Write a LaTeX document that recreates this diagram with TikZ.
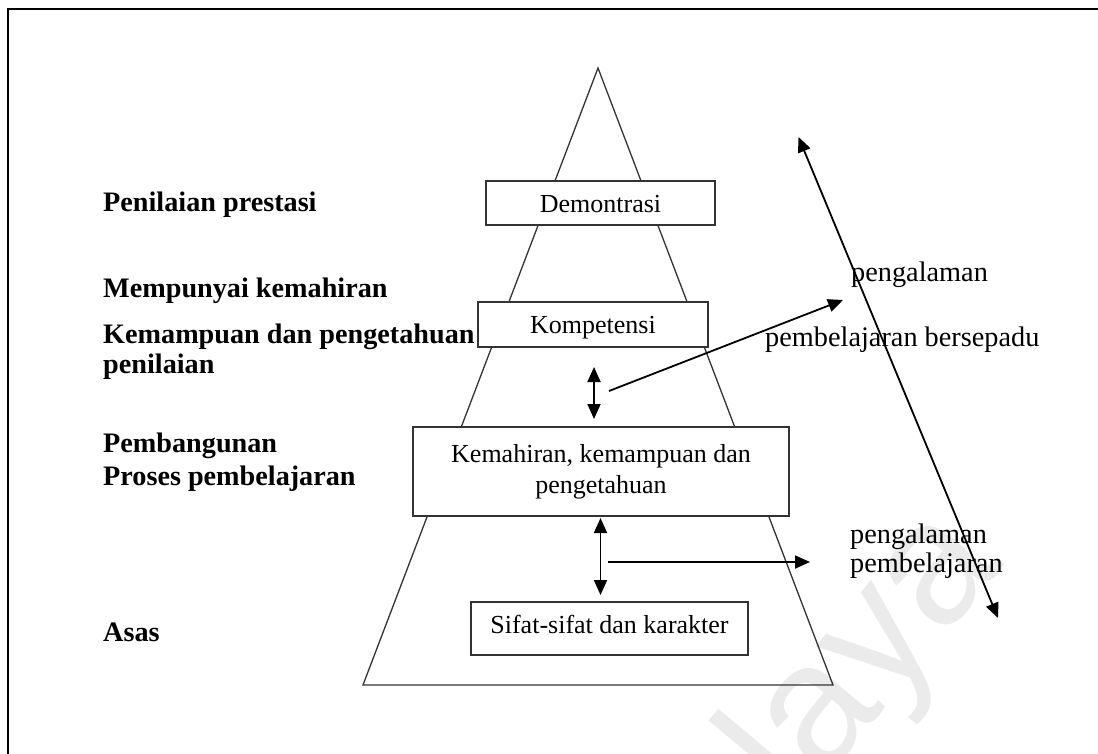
\documentclass[tikz,border=0pt]{standalone}
\usepackage{fontspec}
\setmainfont{Liberation Serif}
\newfontfamily\wmfont{Liberation Sans}
\usetikzlibrary{arrows.meta}
\begin{document}
\begin{tikzpicture}[x=1pt,y=-1pt,
  pyr/.style={draw=black!80,line width=1.3pt},
  box/.style={draw=black!80,line width=1.8pt,fill=white,inner sep=0pt},
  txt/.style={inner sep=0pt,font=\fontsize{26}{30}\selectfont},
  side/.style={inner sep=0pt,anchor=base west,font=\fontsize{28.3}{30}\selectfont},
  lbl/.style={inner sep=0pt,anchor=base west,font=\fontsize{28.2}{30}\selectfont\bfseries},
  tip/.style={Triangle[length=15pt,width=13pt]},
  arr/.style={line width=1.8pt,-{Triangle[length=15pt,width=13pt]}},
  darr/.style={line width=1.8pt,{Triangle[length=15pt,width=13pt]}-{Triangle[length=15pt,width=13pt]}},
  frame/.style={line width=2.5pt}]
\useasboundingbox (0,0) rectangle (1098,754);

% faint watermark
\node[text=black!8,inner sep=0pt,rotate=50,anchor=base east,font=\wmfont\fontsize{175}{175}\selectfont] (wm) at (1005,565) {Malaya};

% frame
\coordinate (fa) at (8,760);
\coordinate (fb) at (8,9);
\coordinate (fc) at (1104,9);
\draw[frame] (fa) -- (fb) -- (fc);

% pyramid
\coordinate (apex) at (598,68);
\coordinate (bl) at (363,685);
\coordinate (br) at (833,685);
\draw[pyr,line join=miter] (apex) -- (bl) -- (br) -- cycle;

% levels
\node[box,minimum width=229,minimum height=44] (demo) at (600.5,203) {};
\node[txt,anchor=base] (demoT) at (600.5,213) {Demontrasi};
\node[box,minimum width=230,minimum height=45] (komp) at (593,324.5) {};
\node[txt,anchor=base] (kompT) at (593,333) {Kompetensi};
\node[box,minimum width=376,minimum height=89] (kem) at (601,471.5) {};
\node[txt,anchor=base] (kemT1) at (601,462) {Kemahiran, kemampuan dan};
\node[txt,anchor=base] (kemT2) at (601,493) {pengetahuan};
\node[box,minimum width=277,minimum height=53] (sif) at (609.5,628.5) {};
\node[txt,anchor=base] (sifT) at (609.5,633) {Sifat-sifat dan karakter};

% left-hand labels
\node[lbl] (l1) at (103,212) {Penilaian prestasi};
\node[lbl] (l2) at (103,298) {Mempunyai kemahiran};
\node[lbl] (l3) at (103,343) {Kemampuan dan pengetahuan};
\node[lbl] (l4) at (103,373) {penilaian};
\node[lbl] (l5) at (103,452) {Pembangunan};
\node[lbl] (l6) at (103,485) {Proses pembelajaran};
\node[lbl] (l7) at (103,641) {Asas};

% right-hand labels
\node[side] (r1) at (851,281) {pengalaman};
\node[side] (r2) at (765,346) {pembelajaran bersepadu};
\node[side] (r3) at (850,543) {pengalaman};
\node[side] (r4) at (850,572) {pembelajaran};

% arrows
\coordinate (d1a) at (594,367);
\coordinate (d1b) at (594,419);
\draw[darr] (d1a) -- (d1b);
\coordinate (d2a) at (600.5,518);
\coordinate (d2b) at (600.5,595);
\draw[darr] (d2a) -- (d2b);
\coordinate (s1) at (609,391);
\coordinate (e1) at (843,300);
\draw[arr] (s1) -- (e1);
\coordinate (s2) at (608,562);
\coordinate (e2) at (810,562);
\draw[arr] (s2) -- (e2);
\coordinate (la) at (798.5,137);
\coordinate (lb) at (998,618);
\draw[darr] (la) -- (lb);
\end{tikzpicture}
\end{document}
